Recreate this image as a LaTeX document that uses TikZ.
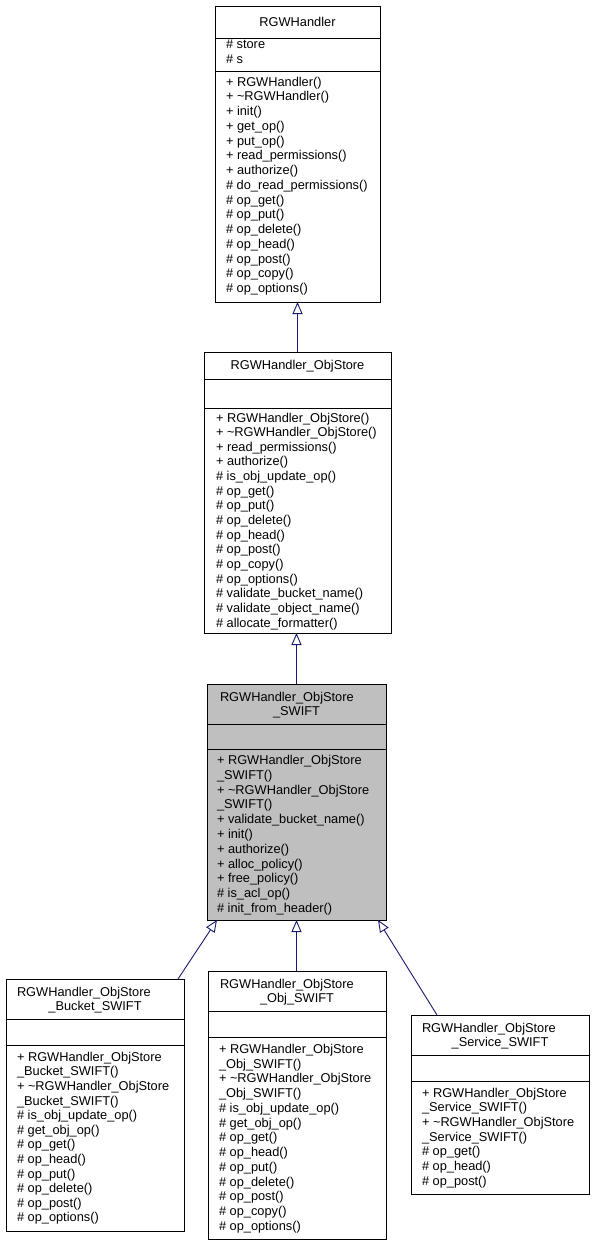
\documentclass[tikz,border=0pt]{standalone}
\usepackage{fontspec}
\setmainfont{Liberation Sans}
\usetikzlibrary{arrows.meta}
\definecolor{edgeblue}{HTML}{191970}
\definecolor{hlgray}{HTML}{BFBFBF}
\tikzset{
  classbox/.style={draw=black, line width=0.9pt, rectangle, inner sep=0pt, outer sep=0pt, anchor=north west},
  divline/.style={draw=black, line width=0.9pt},
  txt/.style={inner sep=0pt, outer sep=0pt, anchor=base west, font=\fontsize{12.8}{14}\selectfont},
  ttl/.style={txt, anchor=base},
  inh/.style={draw=edgeblue, line width=0.9pt, -{Triangle[open, length=12pt, width=10pt, line width=0.9pt]}}
}
\begin{document}
\begin{tikzpicture}[x=1pt,y=-1pt]
\useasboundingbox (0,0) rectangle (595,1245);
\fill[white] (0,0) rectangle (595,1245);

% ---------- RGWHandler ----------
\node[classbox, minimum width=165pt, minimum height=296pt] (rgw) at (215,6) {};
\draw[divline] (215,38) -- (380,38);
\draw[divline] (215,71) -- (380,71);
\node[ttl] (rgwt) at (297.5,26.5) {RGWHandler};
\foreach \t [count=\i from 0] in {\# store,\# s}
  \node[txt] (rgwa\i) at (226,{48+\i*15}) {\t};
\foreach \t [count=\i from 0] in {+ RGWHandler(),+ \textasciitilde RGWHandler(),+ init(),+ get\_op(),+ put\_op(),+ read\_permissions(),+ authorize(),\# do\_read\_permissions(),\# op\_get(),\# op\_put(),\# op\_delete(),\# op\_head(),\# op\_post(),\# op\_copy(),\# op\_options()}
  \node[txt] (rgwm\i) at (226,{86+\i*14.75}) {\t};

% ---------- RGWHandler_ObjStore ----------
\node[classbox, minimum width=187pt, minimum height=281pt] (objstore) at (204,352) {};
\draw[divline] (204,379) -- (391,379);
\draw[divline] (204,408) -- (391,408);
\node[ttl] (ost) at (297.5,369.5) {RGWHandler\_ObjStore};
\foreach \t [count=\i from 0] in {+ RGWHandler\_ObjStore(),+ \textasciitilde RGWHandler\_ObjStore(),+ read\_permissions(),+ authorize(),\# is\_obj\_update\_op(),\# op\_get(),\# op\_put(),\# op\_delete(),\# op\_head(),\# op\_post(),\# op\_copy(),\# op\_options(),\# validate\_bucket\_name(),\# validate\_object\_name(),\# allocate\_formatter()}
  \node[txt] (osm\i) at (216,{422+\i*14.65}) {\t};

% ---------- RGWHandler_ObjStore_SWIFT ----------
\node[classbox, fill=hlgray, minimum width=179pt, minimum height=236pt] (swift) at (207,684) {};
\draw[divline] (207,724) -- (386,724);
\draw[divline] (207,749) -- (386,749);
\node[txt] (swt1) at (220,701.3) {RGWHandler\_ObjStore};
\node[ttl] (swt2) at (296.5,715.3) {\_SWIFT};
\foreach \t [count=\i from 0] in {+ RGWHandler\_ObjStore,\_SWIFT(),+ \textasciitilde RGWHandler\_ObjStore,\_SWIFT(),+ validate\_bucket\_name(),+ init(),+ authorize(),+ alloc\_policy(),+ free\_policy(),\# is\_acl\_op(),\# init\_from\_header()}
  \node[txt] (swm\i) at (217,{764.5+\i*14.8}) {\t};

% ---------- Bucket ----------
\node[classbox, minimum width=178pt, minimum height=252pt] (bucket) at (6,979) {};
\draw[divline] (6,1019) -- (184,1019);
\draw[divline] (6,1045) -- (184,1045);
\node[txt] (bkt1) at (17,996) {RGWHandler\_ObjStore};
\node[ttl] (bkt2) at (95,1010) {\_Bucket\_SWIFT};
\foreach \t [count=\i from 0] in {+ RGWHandler\_ObjStore,\_Bucket\_SWIFT(),+ \textasciitilde RGWHandler\_ObjStore,\_Bucket\_SWIFT(),\# is\_obj\_update\_op(),\# get\_obj\_op(),\# op\_get(),\# op\_head(),\# op\_put(),\# op\_delete(),\# op\_post(),\# op\_options()}
  \node[txt] (bkm\i) at (17,{1061.3+\i*14.6}) {\t};

% ---------- Obj ----------
\node[classbox, minimum width=178pt, minimum height=268pt] (obj) at (208,971) {};
\draw[divline] (208,1011) -- (386,1011);
\draw[divline] (208,1037) -- (386,1037);
\node[txt] (obt1) at (220,988) {RGWHandler\_ObjStore};
\node[ttl] (obt2) at (297,1002) {\_Obj\_SWIFT};
\foreach \t [count=\i from 0] in {+ RGWHandler\_ObjStore,\_Obj\_SWIFT(),+ \textasciitilde RGWHandler\_ObjStore,\_Obj\_SWIFT(),\# is\_obj\_update\_op(),\# get\_obj\_op(),\# op\_get(),\# op\_head(),\# op\_put(),\# op\_delete(),\# op\_post(),\# op\_copy(),\# op\_options()}
  \node[txt] (obm\i) at (219,{1053.3+\i*14.75}) {\t};

% ---------- Service ----------
\node[classbox, minimum width=178pt, minimum height=179pt] (service) at (411,1015) {};
\draw[divline] (411,1055) -- (589,1055);
\draw[divline] (411,1081) -- (589,1081);
\node[txt] (svt1) at (422,1032) {RGWHandler\_ObjStore};
\node[ttl] (svt2) at (500,1046) {\_Service\_SWIFT};
\foreach \t [count=\i from 0] in {+ RGWHandler\_ObjStore,\_Service\_SWIFT(),+ \textasciitilde RGWHandler\_ObjStore,\_Service\_SWIFT(),\# op\_get(),\# op\_head(),\# op\_post()}
  \node[txt] (svm\i) at (422,{1097.3+\i*14.67}) {\t};

% ---------- connectors ----------
\coordinate (bkTop) at (178,979);
\coordinate (swL) at (217,920);
\coordinate (svTop) at (437,1015);
\coordinate (swR) at (378,920);
\draw[inh] (objstore.north) -- (rgw.south);
\draw[inh] (swift.north) -- (swift.north |- objstore.south);
\draw[inh] (obj.north -| swift.south) -- (swift.south);
\draw[inh] (bkTop) -- (swL);
\draw[inh] (svTop) -- (swR);
\end{tikzpicture}
\end{document}
